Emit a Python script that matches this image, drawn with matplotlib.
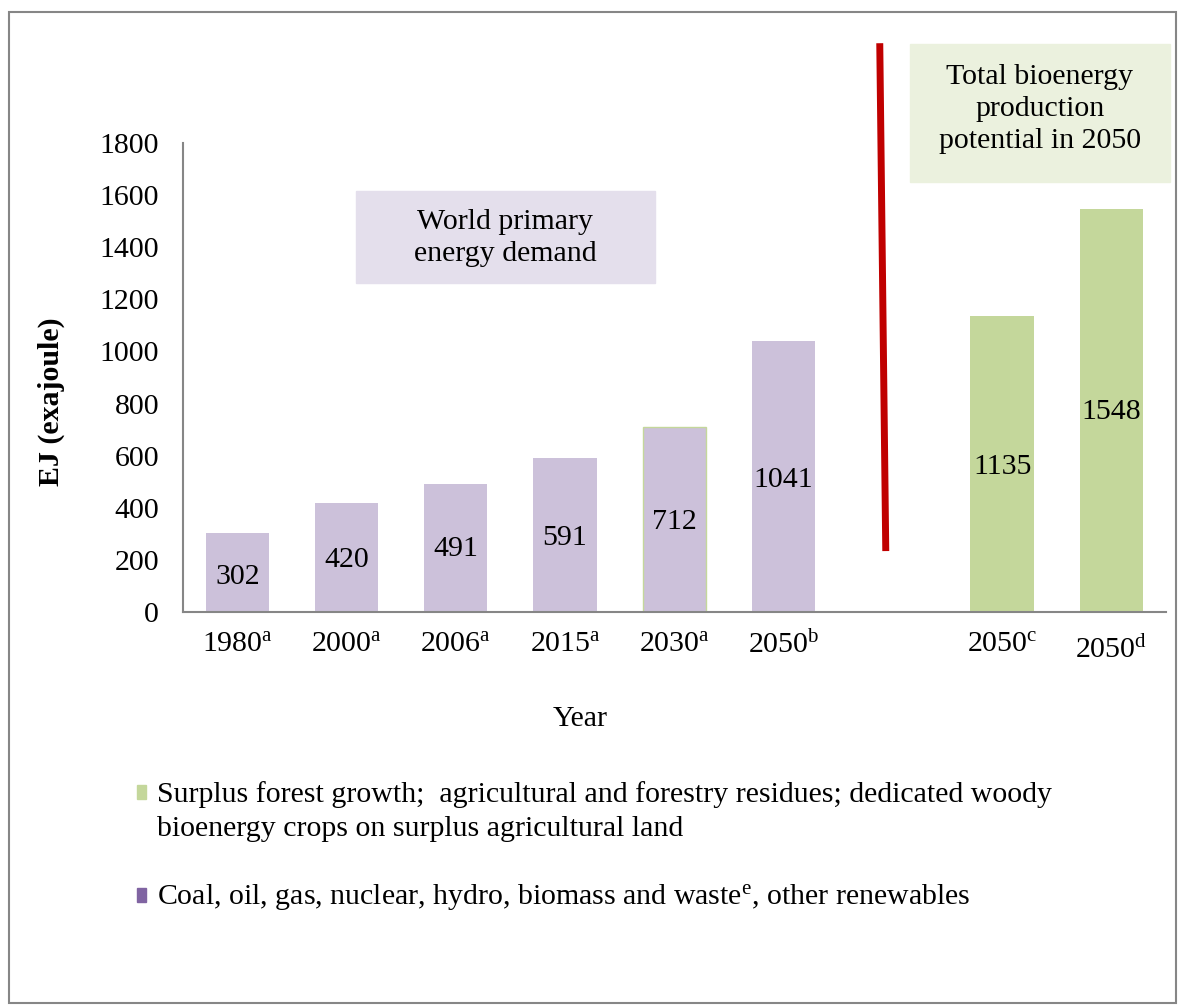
import matplotlib.pyplot as plt
import numpy as np
from matplotlib.patches import Rectangle

plt.rcParams['font.family'] = ['Liberation Serif', 'DejaVu Serif']
plt.rcParams['mathtext.fontset'] = 'custom'
plt.rcParams['mathtext.rm'] = 'Liberation Serif'
plt.rcParams['mathtext.it'] = 'Liberation Serif:italic'

# data
years = ['1980', '2000', '2006', '2015', '2030', '2050', '', '2050', '2050']
notes = ['a', 'a', 'a', 'a', 'a', 'b', '', 'c', 'd']
demand = [302, 420, 491, 591, 712, 1041]
potential = [1135, 1548]
# where the value text sits inside each bar (EJ)
demand_label_y = [134, 200, 242, 284, 345, 507]
potential_label_y = [556, 767]

purple = '#ccc1da'
green = '#c4d79b'
fs = 21.5

fig = plt.figure(figsize=(11.82, 10.05), dpi=100)
fig.patches.append(Rectangle((9 / 1182, 0.002), 1167 / 1182, 0.986, transform=fig.transFigure,
                             fill=False, edgecolor='#868686', lw=1.5))
ax = fig.add_axes([0.1545, 0.391, 0.832, 0.4667])

x_dem = np.arange(len(demand))
x_pot = np.arange(len(potential)) + 7
bars1 = ax.bar(x_dem, demand, width=0.58, color=purple)
bars1[4].set_edgecolor('#c4d79b')
bars1[4].set_linewidth(1)
ax.bar(x_pot, potential, width=0.58, color=green)

for x, v, ly in zip(x_dem, demand, demand_label_y):
    ax.text(x, ly, str(v), ha='center', va='center', fontsize=fs)
for x, v, ly in zip(x_pot, potential, potential_label_y):
    ax.text(x, ly, str(v), ha='center', va='center', fontsize=fs)

ax.set_xlim(-0.5, 8.5)
ax.set_ylim(0, 1800)
ax.set_yticks(range(0, 1801, 200))
ax.tick_params(axis='y', length=0, labelsize=fs, pad=17)
ax.set_xticks(range(len(years)))
labels = [f'{y}$^{{\\mathrm{{{n}}}}}$' if y else '' for y, n in zip(years, notes)]
ax.set_xticklabels(labels)
ax.tick_params(axis='x', length=0, labelsize=fs, pad=14)
ax.get_xticklabels()[8].set_y(-0.01)
for s in ['top', 'right']:
    ax.spines[s].set_visible(False)
for s in ['left', 'bottom']:
    ax.spines[s].set_color('#868686')
    ax.spines[s].set_linewidth(1.5)

ax.set_xlabel('Year', fontsize=fs)
ax.xaxis.set_label_coords(0.404, -0.20)
ax.set_ylabel('EJ (exajoule)', fontsize=fs, fontweight='bold')
ax.yaxis.set_label_coords(-0.12, 0.448)

# divider between demand and potential
ax.plot([5.88, 5.935], [2183, 234], color='#c00000', lw=5, clip_on=False, solid_capstyle='butt')

# annotation boxes
fig.patches.append(Rectangle((356 / 1182, 1 - 283 / 1005), 299 / 1182, 92 / 1005,
                             transform=fig.transFigure, color='#e4dfec', zorder=0))
fig.text(505 / 1182, 1 - 238 / 1005, 'World primary\nenergy demand', ha='center', va='center',
         fontsize=fs, linespacing=1.3)
fig.patches.append(Rectangle((910 / 1182, 1 - 182 / 1005), 260 / 1182, 138 / 1005,
                             transform=fig.transFigure, color='#ebf1de', zorder=0))
fig.text(1040 / 1182, 1 - 109 / 1005, 'Total bioenergy\nproduction\npotential in 2050',
         ha='center', va='center', fontsize=fs, linespacing=1.3)

# legend
fig.patches.append(Rectangle((137 / 1182, 1 - 799 / 1005), 9 / 1182, 14 / 1005,
                             transform=fig.transFigure, color=green))
fig.text(157 / 1182, 1 - 812 / 1005,
         'Surplus forest growth;  agricultural and forestry residues; dedicated woody\n'
         'bioenergy crops on surplus agricultural land',
         ha='left', va='center', fontsize=fs, linespacing=1.4)
fig.patches.append(Rectangle((137 / 1182, 1 - 902 / 1005), 9 / 1182, 14 / 1005,
                             transform=fig.transFigure, color='#8064a2'))
fig.text(157 / 1182, 1 - 897 / 1005,
         'Coal, oil, gas, nuclear, hydro, biomass and waste$^{\\mathrm{e}}$, other renewables',
         ha='left', va='center', fontsize=fs)

fig.savefig('out.png', dpi=100)
